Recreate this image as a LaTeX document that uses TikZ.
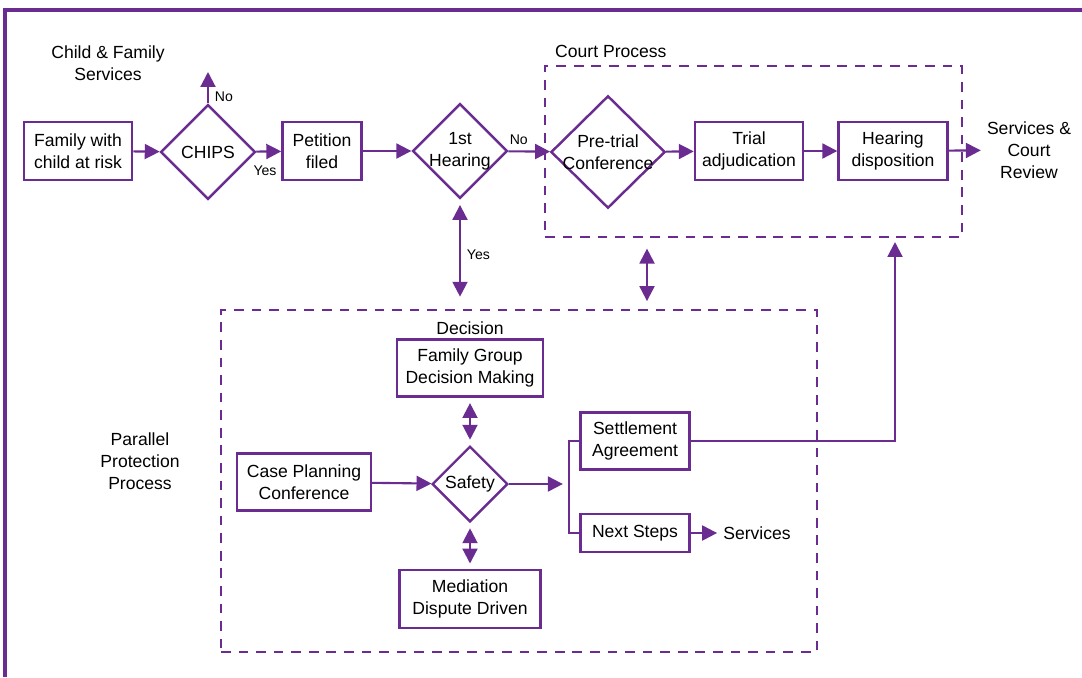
\documentclass[tikz,border=0pt]{standalone}
\usepackage{fontspec}
\setmainfont{Liberation Sans}
\usetikzlibrary{arrows.meta, shapes.geometric}
\definecolor{purp}{RGB}{106,44,145}

\begin{document}
\begin{tikzpicture}[x=0.02cm, y=-0.02cm, font=\fontsize{10}{12.5}\selectfont,
  >={Triangle[length=8.5pt,width=8.5pt]},
  box/.style={draw=purp, line width=1.4pt, align=center, minimum height=33pt, inner sep=2pt},
  choice/.style={diamond, draw=purp, line width=1.4pt, align=center, inner sep=-6pt, minimum width=54pt, minimum height=54pt},
  group/.style={draw=purp, line width=1.2pt, dash pattern=on 5.5pt off 4.5pt, inner sep=0pt},
  flow/.style={draw, color=purp, line width=1.2pt, ->},
  yesno/.style={text=black, font=\fontsize{8}{9.5}\selectfont}]
  \useasboundingbox (0,0) rectangle (1082,677);
  \draw[purp, line width=2pt] (5,677) -- (5,10) -- (1082,10);

  % top row
  \node[align=center] (cfs) at (108,63) {Child \& Family\\Services};
  \node[box, minimum width=61.5pt] (fam) at (78,151) {Family with\\child at risk};
  \node[choice] (chips) at (208,152) {CHIPS};
  \node[box, minimum width=45pt] (pet) at (322,151) {Petition\\filed};
  \node[choice] (hear) at (460,151) {1st\\Hearing};
  \node[anchor=west] (ctitle) at (549,51) {Court Process};
  \node[group, minimum width=8.34cm, minimum height=3.42cm] (court) at (753.5,151.5) {};
  \node[choice, minimum width=65pt, minimum height=64pt] (pre) at (608,152) {Pre-trial\\Conference};
  \node[box, minimum width=61.5pt] (trial) at (749,151) {Trial\\adjudication};
  \node[box, minimum width=62pt] (disp) at (893,151) {Hearing\\disposition};
  \node[align=center] (review) at (1029,150) {Services \&\\Court\\Review};
  \coordinate (no) at (208,72);

  % parallel protection process
  \node[align=center] (ppp) at (140,461) {Parallel\\Protection\\Process};
  \node[group, minimum width=11.92cm, minimum height=6.84cm] (par) at (519,481) {};
  \node (dec) at (470,328) {Decision};
  \node[box, minimum width=83pt, minimum height=32.5pt] (fgdm) at (470,368) {Family Group\\Decision Making};
  \node[choice, minimum width=43pt, minimum height=43pt] (safe) at (470,484) {Safety};
  \node[box, minimum width=80pt] (med) at (470,599) {Mediation\\Dispute Driven};
  \node[box, minimum width=76pt, minimum height=32.5pt] (case) at (304,482) {Case Planning\\Conference};
  \node[box, minimum width=62pt, minimum height=32.5pt] (settle) at (635,441) {Settlement\\Agreement};
  \node[box, minimum width=62pt, minimum height=21.6pt] (next) at (635,533) {Next Steps};
  \node (serv) at (757,533) {Services};
  \coordinate (fork) at (569,484);
  \coordinate (up) at (895,242);
  \coordinate (mid) at (647,0);

  \path[flow]
    (fam) edge (chips)
    (chips) edge node[yesno, below=4pt, pos=0.35] {Yes} (pet)
    (chips) edge node[yesno, right, pos=0.2] {No} (no)
    (pet) edge (hear)
    (hear) edge node[yesno, above, pos=0.25] {No} (pre)
    (pre) edge (trial)
    (trial) edge (disp)
    (disp) edge (review)
    (case) edge (safe)
    (next) edge (serv);

  \draw[flow, <->, shorten <=3pt, shorten >=7pt] (hear) -- node[yesno, right] {Yes} (hear |- par.north);
  \draw[flow, <->, shorten <=6pt, shorten >=4.5pt] (mid |- court.south) -- (mid |- par.north);
  \draw[flow, <->, shorten <=3pt, shorten >=3pt] (fgdm) -- (safe);
  \draw[flow, <->, shorten <=3pt, shorten >=3pt] (safe) -- (med);
  \draw[flow, shorten >=3.5pt] (safe) -- (fork);
  \draw[purp, line width=1.2pt] (settle.west) -| (fork) |- (next.west);
  \draw[flow] (settle.east) -| (up);
\end{tikzpicture}
\end{document}
